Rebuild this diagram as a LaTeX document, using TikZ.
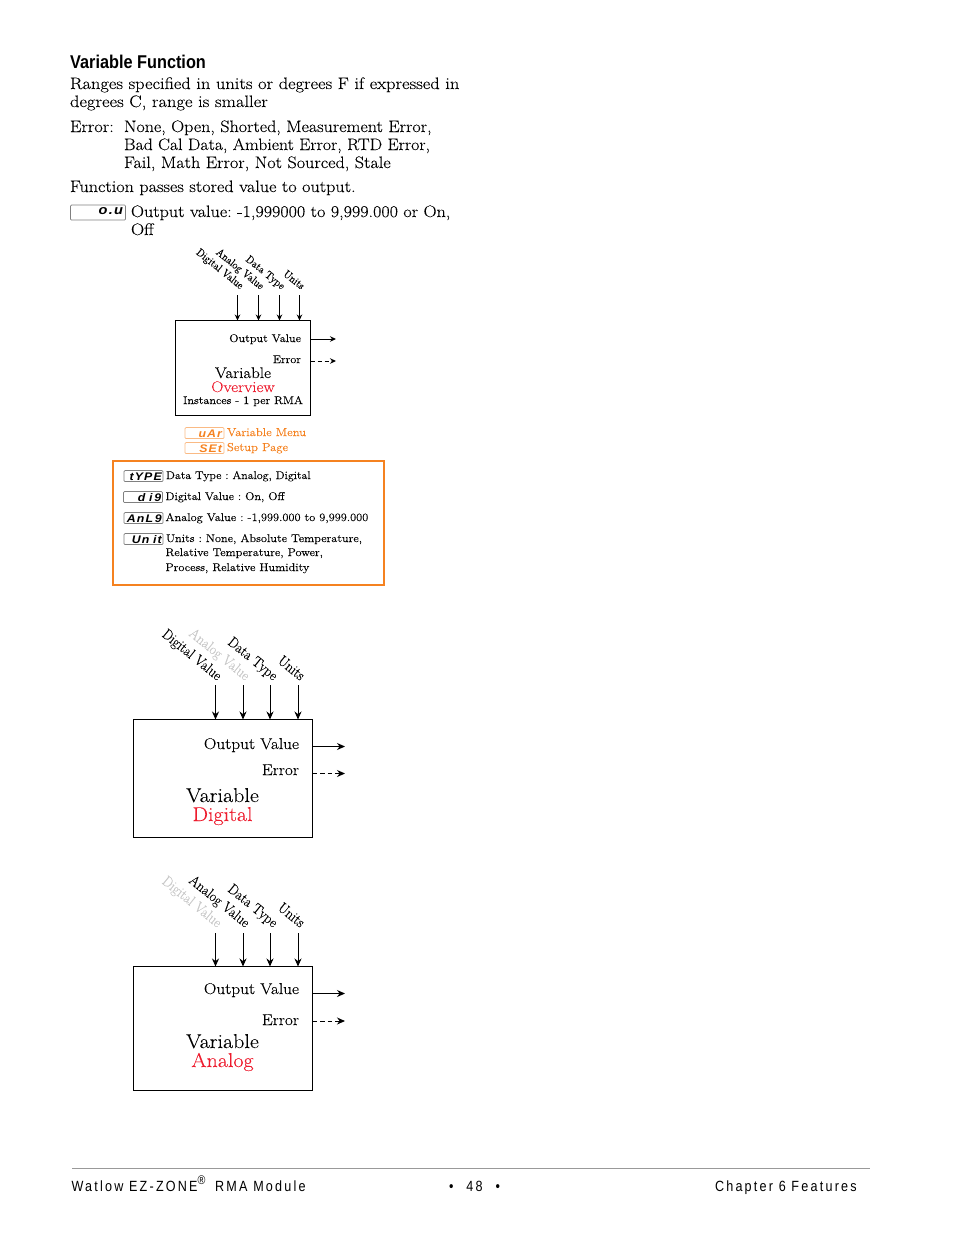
\documentclass[tikz,border=0pt]{standalone}
\usepackage{fontspec}
\usepackage{graphicx}
\usepackage{tikz}
\usetikzlibrary{arrows.meta}
\newfontfamily\bodyf[FakeStretch=1.1,FakeBold=0.1]{Latin Modern Roman}
\newfontfamily\rotf[FakeBold=0.1]{Latin Modern Roman}
\newfontfamily\headf[FakeStretch=0.88,BoldFont={Liberation Sans Bold}]{Liberation Sans}
\newfontfamily\footf[FakeStretch=0.85,LetterSpace=15]{Liberation Sans}
\newfontfamily\lcdf[FakeStretch=1.12,LetterSpace=10]{Liberation Sans}
\definecolor{wred}{HTML}{ED1C2E}
\definecolor{worange}{HTML}{F58220}
\definecolor{wgray}{HTML}{C8C8C8}
\newcommand{\fs}[1]{\fontsize{#1}{#1}\selectfont\frenchspacing}
\newcommand{\xs}[2]{\scalebox{#1}[1]{#2}}
\tikzset{
  x=1pt,y=-1pt,
  txt/.style={anchor=base west,inner sep=0pt,outer sep=0pt,font=\bodyf\fs{16.6}},
  sm/.style={anchor=base west,inner sep=0pt,outer sep=0pt,font=\bodyf\fs{11.2}},
  orangelbl/.style={anchor=base west,inner sep=0pt,outer sep=0pt,text=worange,font=\bodyf\fs{11.5}},
  smr/.style={anchor=base east,inner sep=0pt,outer sep=0pt,font=\bodyf\fs{11.1}},
  smc/.style={anchor=base,inner sep=0pt,outer sep=0pt,font=\bodyf\fs{11.1}},
  midr/.style={anchor=base east,inner sep=0pt,outer sep=0pt,font=\bodyf\fs{15.7}},
  bigc/.style={anchor=base,inner sep=0pt,outer sep=0pt,font=\bodyf\fs{20}},
  medc/.style={anchor=base,inner sep=0pt,outer sep=0pt,font=\bodyf\fs{15.4}},
  rotsm/.style={anchor=base east,inner sep=0pt,outer sep=0pt,rotate=-39,font=\rotf\fs{11}},
  rotbig/.style={anchor=base east,inner sep=0pt,outer sep=0pt,rotate=-39,font=\rotf\fs{14.8}},
  blockbox/.style={draw=black,line width=0.9pt,inner sep=0pt,outer sep=0pt},
  inarr/.style={draw=black,line width=0.9pt,-{Stealth[length=6pt,width=5.5pt]}},
  outarr/.style={inarr},
  errarr/.style={inarr,dash pattern=on 4pt off 3pt},
  inbig/.style={draw=black,line width=1pt,-{Stealth[length=8pt,width=7pt]}},
  outbig/.style={inbig},
  errbig/.style={inbig,dash pattern=on 4.5pt off 3pt},
  lcd/.style={draw=#1,rounded corners=1pt,line width=0.7pt,inner sep=0pt,outer sep=0pt,anchor=west,
     minimum height=11pt,text height=8pt,text depth=0pt,align=right,font=\lcdf\bfseries\itshape\fs{11}},
  foot/.style={anchor=base west,inner sep=0pt,outer sep=0pt,font=\footf\fs{14.8}},
}
\begin{document}
\begin{tikzpicture}
\useasboundingbox (0,0) rectangle (954,1235);
% heading and body
\node[anchor=base west,inner sep=0pt,font=\headf\bfseries\fs{18.5}] (head) at (70,68) {Variable Function};
\node[txt] (l1) at (70,89) {\xs{1.01}{Ranges specified in units or degrees F if expressed in}};
\node[txt] (l2) at (70,107) {\xs{1.015}{degrees C, range is smaller}};
\node[txt] (l3) at (70,132) {Error:};
\node[txt] (l4) at (124,132) {\xs{0.987}{None, Open, Shorted, Measurement Error,}};
\node[txt] (l5) at (124,150) {\xs{0.971}{Bad Cal Data, Ambient Error, RTD Error,}};
\node[txt] (l6) at (124,168) {\xs{0.993}{Fail, Math Error, Not Sourced, Stale}};
\node[txt] (l7) at (70,192) {\xs{0.993}{Function passes stored value to output.}};
\node[lcd=gray,text width=50pt,minimum width=55pt,minimum height=15pt,text height=7pt,text depth=3pt,font=\lcdf\bfseries\itshape\fs{13}] (ou) at (70.5,212.5) {o.u};
\node[txt] (l8) at (131,217) {\xs{0.99}{Output value: -1,999000 to 9,999.000 or On,}};
\node[txt] (l9) at (131,235) {Off};
% overview block
\node[rotsm] (a1) at (240,289.5) {\xs{0.9}{Digital Value}};
\node[rotsm] (a2) at (260.5,290) {\xs{0.9}{Analog Value}};
\node[rotsm] (a3) at (281.5,290) {\xs{0.9}{Data Type}};
\node[rotsm] (a4) at (301,290) {\xs{0.9}{Units}};
\node[blockbox,minimum width=135pt,minimum height=94.5pt,anchor=north west] (b1) at (175.5,320.5) {};
\coordinate (i1) at (237.5,295); \coordinate (i2) at (258.5,295);
\coordinate (i3) at (279.5,295); \coordinate (i4) at (299.5,295);
\coordinate (o1) at (336,339); \coordinate (o2) at (336,361);
\foreach \c in {i1,i2,i3,i4} \draw[inarr] (\c) -- (\c |- b1.north);
\draw[outarr] (b1.east |- o1) -- (o1);
\draw[errarr] (b1.east |- o2) -- (o2);
\node[smr] (t1) at (301,342) {Output Value};
\node[smr] (t2) at (301,363) {Error};
\node[medc] (t3) at (243,378) {Variable};
\node[medc,text=wred] (t4) at (243,392) {Overview};
\node[smc] (t5) at (243,404) {Instances - 1 per RMA};
% orange menu labels
\node[lcd=worange!55,text=worange,text width=35pt,minimum width=39pt] (var) at (185,433) {uAr};
\node[lcd=worange!55,text=worange,text width=35pt,minimum width=39pt] (set) at (185,448) {SEt};
\node[orangelbl] (vm) at (227,436) {Variable Menu};
\node[orangelbl] (sp) at (227,451) {Setup Page};
% orange box
\draw[worange,line width=2pt] (113,460.5) rectangle (383.5,585);
\node[lcd=gray,text width=36.5pt,minimum width=39pt] (k1) at (124,476) {tYPE};
\node[lcd=gray,text width=36.5pt,minimum width=39pt] (k2) at (123.5,497) {d\,\,i\,9};
\node[lcd=gray,text width=36.5pt,minimum width=39pt] (k3) at (124,518) {AnL\,9};
\node[lcd=gray,text width=36.5pt,minimum width=39pt] (k4) at (124,539) {Un\,\,it};
\node[sm] (m1) at (166,479) {\xs{0.97}{Data Type : Analog, Digital}};
\node[sm] (m2) at (165.5,500) {\xs{0.985}{Digital Value : On, Off}};
\node[sm] (m3) at (165.5,521) {Analog Value : -1,999.000 to 9,999.000};
\node[sm] (m4) at (166,542) {Units : None, Absolute Temperature,};
\node[sm] (m5) at (165.5,556) {Relative Temperature, Power,};
\node[sm] (m6) at (165.5,571) {Process, Relative Humidity};
% digital block
\node[rotbig] (d1) at (217,681) {\xs{0.92}{Digital Value}};
\node[rotbig,text=wgray] (d2) at (245,681) {\xs{0.92}{Analog Value}};
\node[rotbig] (d3) at (273,681) {\xs{0.92}{Data Type}};
\node[rotbig] (d4) at (300,681) {\xs{0.92}{Units}};
\node[blockbox,minimum width=179pt,minimum height=118pt,anchor=north west] (b2) at (133.5,719.5) {};
\coordinate (j1) at (215.5,685); \coordinate (j2) at (243,685);
\coordinate (j3) at (270,685); \coordinate (j4) at (298,685);
\coordinate (p1) at (345,746.5); \coordinate (p2) at (345,773.5);
\foreach \c in {j1,j2,j3,j4} \draw[inbig] (\c) -- (\c |- b2.north);
\draw[outbig] (b2.east |- p1) -- (p1);
\draw[errbig] (b2.east |- p2) -- (p2);
\node[midr] (u1) at (299,749) {Output Value};
\node[midr] (u2) at (299,775) {Error};
\node[bigc] (u3) at (222.5,802) {Variable};
\node[bigc,text=wred] (u4) at (222.5,821) {Digital};
% analog block
\node[rotbig,text=wgray] (e1) at (217,928) {\xs{0.92}{Digital Value}};
\node[rotbig] (e2) at (245,928) {\xs{0.92}{Analog Value}};
\node[rotbig] (e3) at (273,928) {\xs{0.92}{Data Type}};
\node[rotbig] (e4) at (300,928) {\xs{0.92}{Units}};
\node[blockbox,minimum width=179pt,minimum height=124pt,anchor=north west] (b3) at (133.5,966.5) {};
\coordinate (q1) at (215.5,933); \coordinate (q2) at (243,933);
\coordinate (q3) at (270,933); \coordinate (q4) at (298,933);
\coordinate (r1) at (345,993.5); \coordinate (r2) at (345,1021);
\foreach \c in {q1,q2,q3,q4} \draw[inbig] (\c) -- (\c |- b3.north);
\draw[outbig] (b3.east |- r1) -- (r1);
\draw[errbig] (b3.east |- r2) -- (r2);
\node[midr] (v1) at (299,994) {Output Value};
\node[midr] (v2) at (299,1025) {Error};
\node[bigc] (v3) at (222.5,1048) {Variable};
\node[bigc,text=wred] (v4) at (222.5,1067) {Analog};
% footer
\coordinate (fl) at (72,1168.5); \coordinate (fr) at (870,1168.5);
\draw[gray!80,line width=0.8pt] (fl) -- (fr);
\node[foot] (f1) at (71.5,1191) {Watlow EZ-ZONE\raisebox{0.42em}{\fs{12.5}®}\hspace{4pt} RMA Module};
\node[foot] (f2) at (449,1191) {•\hspace{13pt}48\hspace{13pt}•};
\node[foot] (f3) at (715,1191) {Chapter 6 Features};
\end{tikzpicture}
\end{document}
